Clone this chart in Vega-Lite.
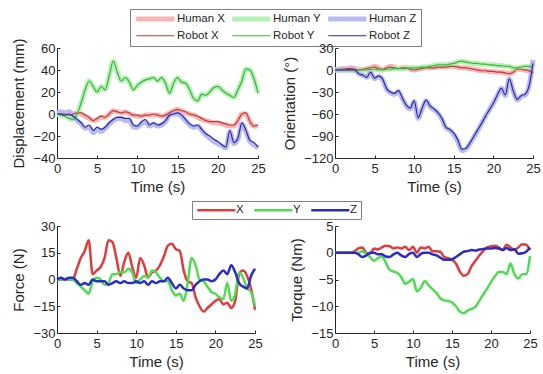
{
"$schema": "https://vega.github.io/schema/vega-lite/v6.json",
"background": "white",
"padding": {"left": 11, "top": 8, "right": 2, "bottom": 5},
"autosize": {"type": "pad"},
"config": {
  "font": "Liberation Sans",
  "view": {"stroke": null},
  "axis": {"grid": false, "domainColor": "#262626", "tickColor": "#262626", "labelColor": "#262626", "titleColor": "#262626", "labelFontSize": 13, "titleFontSize": 15, "titleFontWeight": "normal", "tickSize": -3, "labelPadding": 5, "titlePadding": 6, "labelFlush": false, "labelOverlap": false},
  "axisX": {"labelPadding": 7, "titlePadding": 4},
  "legend": {"labelFontSize": 11.5, "labelColor": "#262626", "strokeColor": "#808080", "fillColor": "white", "padding": 4, "rowPadding": 0, "columnPadding": 1, "title": null, "direction": "horizontal", "symbolSize": 49}
},
"columns": 2,
"spacing": {"row": 68, "column": 77},
"bounds": "flush",
"resolve": {"scale": {"color": "independent"}, "legend": {"color": "independent"}},
"concat": [
{
"width": 201, "height": 110,
"data": {"values": [
{"t":0,"Robot X":0,"Robot Y":0,"Robot Z":0,"Human X":0,"Human Y":0,"Human Z":1},
{"t":0.5,"Robot X":0,"Robot Y":-1,"Robot Z":0,"Human X":0,"Human Y":-1,"Human Z":2},
{"t":1,"Robot X":0,"Robot Y":-2,"Robot Z":-1,"Human X":0,"Human Y":-2,"Human Z":1},
{"t":1.5,"Robot X":-1,"Robot Y":-4,"Robot Z":0,"Human X":-1,"Human Y":-4,"Human Z":2},
{"t":2,"Robot X":0,"Robot Y":-5,"Robot Z":-2,"Human X":0,"Human Y":-5,"Human Z":-1},
{"t":2.5,"Robot X":1,"Robot Y":0,"Robot Z":-5,"Human X":1,"Human Y":0,"Human Z":-6},
{"t":3,"Robot X":1,"Robot Y":10,"Robot Z":-8,"Human X":0,"Human Y":10,"Human Z":-9},
{"t":3.5,"Robot X":-1,"Robot Y":22,"Robot Z":-12,"Human X":-2,"Human Y":22,"Human Z":-13},
{"t":4,"Robot X":-3,"Robot Y":30,"Robot Z":-10,"Human X":-4,"Human Y":30,"Human Z":-12},
{"t":4.5,"Robot X":-6,"Robot Y":25,"Robot Z":-15,"Human X":-6,"Human Y":25,"Human Z":-17},
{"t":5,"Robot X":-4,"Robot Y":20,"Robot Z":-12,"Human X":-5,"Human Y":20,"Human Z":-14},
{"t":5.5,"Robot X":-2,"Robot Y":25,"Robot Z":-14,"Human X":-3,"Human Y":25,"Human Z":-16},
{"t":6,"Robot X":-3,"Robot Y":22,"Robot Z":-12,"Human X":-3,"Human Y":22,"Human Z":-13},
{"t":6.5,"Robot X":0,"Robot Y":35,"Robot Z":-8,"Human X":0,"Human Y":35,"Human Z":-9},
{"t":7,"Robot X":3,"Robot Y":48,"Robot Z":-5,"Human X":3,"Human Y":48,"Human Z":-6},
{"t":7.5,"Robot X":2,"Robot Y":38,"Robot Z":-3,"Human X":2,"Human Y":38,"Human Z":-4},
{"t":8,"Robot X":1,"Robot Y":30,"Robot Z":-3,"Human X":1,"Human Y":30,"Human Z":-4},
{"t":8.5,"Robot X":2,"Robot Y":33,"Robot Z":-4,"Human X":2,"Human Y":33,"Human Z":-6},
{"t":9,"Robot X":1,"Robot Y":29,"Robot Z":-4,"Human X":0,"Human Y":29,"Human Z":-6},
{"t":9.5,"Robot X":-1,"Robot Y":22,"Robot Z":-10,"Human X":-1,"Human Y":22,"Human Z":-12},
{"t":10,"Robot X":-1,"Robot Y":26,"Robot Z":-11,"Human X":-2,"Human Y":26,"Human Z":-12},
{"t":10.5,"Robot X":-2,"Robot Y":29,"Robot Z":-7,"Human X":-2,"Human Y":29,"Human Z":-9},
{"t":11,"Robot X":-1,"Robot Y":31,"Robot Z":-5,"Human X":-1,"Human Y":31,"Human Z":-7},
{"t":11.5,"Robot X":-1,"Robot Y":32,"Robot Z":-10,"Human X":-1,"Human Y":32,"Human Z":-11},
{"t":12,"Robot X":0,"Robot Y":33,"Robot Z":-8,"Human X":-1,"Human Y":33,"Human Z":-9},
{"t":12.5,"Robot X":-1,"Robot Y":30,"Robot Z":-10,"Human X":-1,"Human Y":30,"Human Z":-11},
{"t":13,"Robot X":-2,"Robot Y":33,"Robot Z":-9,"Human X":-2,"Human Y":33,"Human Z":-10},
{"t":13.5,"Robot X":-1,"Robot Y":28,"Robot Z":-6,"Human X":-1,"Human Y":28,"Human Z":-7},
{"t":14,"Robot X":1,"Robot Y":19,"Robot Z":-1,"Human X":1,"Human Y":19,"Human Z":-1},
{"t":14.5,"Robot X":3,"Robot Y":28,"Robot Z":0,"Human X":3,"Human Y":28,"Human Z":0},
{"t":15,"Robot X":4,"Robot Y":33,"Robot Z":1,"Human X":4,"Human Y":33,"Human Z":0},
{"t":15.5,"Robot X":3,"Robot Y":29,"Robot Z":-1,"Human X":3,"Human Y":29,"Human Z":-2},
{"t":16,"Robot X":2,"Robot Y":28,"Robot Z":-5,"Human X":1,"Human Y":28,"Human Z":-6},
{"t":16.5,"Robot X":0,"Robot Y":22,"Robot Z":-9,"Human X":0,"Human Y":22,"Human Z":-10},
{"t":17,"Robot X":-1,"Robot Y":14,"Robot Z":-11,"Human X":-1,"Human Y":14,"Human Z":-12},
{"t":17.5,"Robot X":-2,"Robot Y":12,"Robot Z":-10,"Human X":-3,"Human Y":12,"Human Z":-11},
{"t":18,"Robot X":-4,"Robot Y":18,"Robot Z":-14,"Human X":-5,"Human Y":18,"Human Z":-15},
{"t":18.5,"Robot X":-6,"Robot Y":17,"Robot Z":-18,"Human X":-6,"Human Y":17,"Human Z":-19},
{"t":19,"Robot X":-7,"Robot Y":20,"Robot Z":-20,"Human X":-7,"Human Y":20,"Human Z":-22},
{"t":19.5,"Robot X":-7,"Robot Y":24,"Robot Z":-23,"Human X":-8,"Human Y":24,"Human Z":-25},
{"t":20,"Robot X":-7,"Robot Y":25,"Robot Z":-25,"Human X":-8,"Human Y":25,"Human Z":-27},
{"t":20.5,"Robot X":-8,"Robot Y":22,"Robot Z":-28,"Human X":-9,"Human Y":22,"Human Z":-29},
{"t":21,"Robot X":-9,"Robot Y":19,"Robot Z":-30,"Human X":-10,"Human Y":19,"Human Z":-31},
{"t":21.5,"Robot X":-10,"Robot Y":17,"Robot Z":-15,"Human X":-11,"Human Y":17,"Human Z":-16},
{"t":22,"Robot X":-10,"Robot Y":15,"Robot Z":-26,"Human X":-11,"Human Y":15,"Human Z":-27},
{"t":22.5,"Robot X":-6,"Robot Y":22,"Robot Z":-22,"Human X":-6,"Human Y":22,"Human Z":-23},
{"t":23,"Robot X":0,"Robot Y":30,"Robot Z":-8,"Human X":0,"Human Y":30,"Human Z":-9},
{"t":23.5,"Robot X":1,"Robot Y":41,"Robot Z":-15,"Human X":0,"Human Y":41,"Human Z":-16},
{"t":24,"Robot X":-7,"Robot Y":40,"Robot Z":-24,"Human X":-7,"Human Y":40,"Human Z":-25},
{"t":24.5,"Robot X":-11,"Robot Y":32,"Robot Z":-26,"Human X":-11,"Human Y":32,"Human Z":-28},
{"t":25,"Robot X":-10,"Robot Y":19,"Robot Z":-30,"Human X":-11,"Human Y":19,"Human Z":-31}
]},
"transform": [{"fold": ["Human X","Human Y","Human Z","Robot X","Robot Y","Robot Z"]}],
"encoding": {
  "x": {"field": "t", "type": "quantitative", "scale": {"domain": [0,25], "nice": false}, "axis": {"values": [0,5,10,15,20,25], "title": "Time (s)"}},
  "y": {"field": "value", "type": "quantitative", "scale": {"domain": [-40,60], "nice": false}, "axis": {"values": [-40,-20,0,20,40,60], "title": "Displacement (mm)"}},
  "color": {"field": "key", "type": "nominal", "scale": {"domain": ["Human X","Human Y","Human Z","Robot X","Robot Y","Robot Z"], "range": ["#f5b5b5","#b5f0b5","#babaf2","#c03a3a","#3cb43c","#2a2a9a"]}, "legend": {"orient": "none", "legendX": 73, "legendY": -39, "columns": 3, "columnPadding": -3, "symbolType": "M-1,0H9.9", "labelOffset": 31.5, "encode": {"symbols": {"update": {"strokeWidth": {"signal": "test(/Human/, datum.value) ? 5 : 1.2"}}}}}}
},
"layer": [
  {"transform": [{"filter": {"field": "key", "oneOf": ["Human X","Human Y","Human Z"]}}], "mark": {"type": "line", "interpolate": "monotone", "strokeWidth": 5}},
  {"transform": [{"filter": {"field": "key", "oneOf": ["Robot X","Robot Y","Robot Z"]}}], "mark": {"type": "line", "interpolate": "monotone", "strokeWidth": 1.2}}
]
},
{
"width": 198, "height": 110,
"data": {"values": [
{"t":0,"Robot X":0,"Robot Y":0,"Robot Z":0,"Human X":0,"Human Y":0,"Human Z":0},
{"t":0.5,"Robot X":1,"Robot Y":0,"Robot Z":0,"Human X":1,"Human Y":0,"Human Z":0},
{"t":1,"Robot X":1,"Robot Y":0,"Robot Z":0,"Human X":2,"Human Y":0,"Human Z":0},
{"t":1.5,"Robot X":2,"Robot Y":0,"Robot Z":0,"Human X":2,"Human Y":0,"Human Z":0},
{"t":2,"Robot X":2,"Robot Y":-1,"Robot Z":1,"Human X":3,"Human Y":-1,"Human Z":1},
{"t":2.5,"Robot X":1,"Robot Y":-1,"Robot Z":0,"Human X":2,"Human Y":-1,"Human Z":0},
{"t":3,"Robot X":0,"Robot Y":0,"Robot Z":-5,"Human X":1,"Human Y":0,"Human Z":-5},
{"t":3.5,"Robot X":1,"Robot Y":0,"Robot Z":-7,"Human X":1,"Human Y":0,"Human Z":-7},
{"t":4,"Robot X":2,"Robot Y":0,"Robot Z":-10,"Human X":2,"Human Y":0,"Human Z":-10},
{"t":4.5,"Robot X":3,"Robot Y":1,"Robot Z":-3,"Human X":3,"Human Y":1,"Human Z":-3},
{"t":5,"Robot X":4,"Robot Y":1,"Robot Z":-11,"Human X":5,"Human Y":1,"Human Z":-12},
{"t":5.5,"Robot X":2,"Robot Y":0,"Robot Z":-8,"Human X":3,"Human Y":0,"Human Z":-9},
{"t":6,"Robot X":1,"Robot Y":0,"Robot Z":-12,"Human X":1,"Human Y":0,"Human Z":-13},
{"t":6.5,"Robot X":3,"Robot Y":1,"Robot Z":-25,"Human X":3,"Human Y":1,"Human Z":-26},
{"t":7,"Robot X":4,"Robot Y":1,"Robot Z":-30,"Human X":5,"Human Y":1,"Human Z":-31},
{"t":7.5,"Robot X":3,"Robot Y":2,"Robot Z":-32,"Human X":4,"Human Y":2,"Human Z":-33},
{"t":8,"Robot X":2,"Robot Y":2,"Robot Z":-28,"Human X":2,"Human Y":2,"Human Z":-29},
{"t":8.5,"Robot X":3,"Robot Y":2,"Robot Z":-38,"Human X":3,"Human Y":2,"Human Z":-39},
{"t":9,"Robot X":3,"Robot Y":2,"Robot Z":-48,"Human X":3,"Human Y":2,"Human Z":-49},
{"t":9.5,"Robot X":1,"Robot Y":3,"Robot Z":-52,"Human X":1,"Human Y":3,"Human Z":-53},
{"t":10,"Robot X":0,"Robot Y":3,"Robot Z":-42,"Human X":0,"Human Y":3,"Human Z":-43},
{"t":10.5,"Robot X":1,"Robot Y":3,"Robot Z":-65,"Human X":1,"Human Y":3,"Human Z":-66},
{"t":11,"Robot X":2,"Robot Y":4,"Robot Z":-52,"Human X":2,"Human Y":4,"Human Z":-53},
{"t":11.5,"Robot X":3,"Robot Y":4,"Robot Z":-41,"Human X":3,"Human Y":4,"Human Z":-42},
{"t":12,"Robot X":3,"Robot Y":5,"Robot Z":-49,"Human X":3,"Human Y":5,"Human Z":-50},
{"t":12.5,"Robot X":3,"Robot Y":6,"Robot Z":-53,"Human X":3,"Human Y":6,"Human Z":-54},
{"t":13,"Robot X":4,"Robot Y":7,"Robot Z":-58,"Human X":4,"Human Y":7,"Human Z":-59},
{"t":13.5,"Robot X":4,"Robot Y":7,"Robot Z":-66,"Human X":4,"Human Y":7,"Human Z":-67},
{"t":14,"Robot X":4,"Robot Y":7,"Robot Z":-78,"Human X":4,"Human Y":7,"Human Z":-79},
{"t":14.5,"Robot X":5,"Robot Y":8,"Robot Z":-81,"Human X":5,"Human Y":8,"Human Z":-82},
{"t":15,"Robot X":5,"Robot Y":9,"Robot Z":-86,"Human X":5,"Human Y":9,"Human Z":-88},
{"t":15.5,"Robot X":4,"Robot Y":11,"Robot Z":-95,"Human X":4,"Human Y":11,"Human Z":-97},
{"t":16,"Robot X":3,"Robot Y":12,"Robot Z":-108,"Human X":3,"Human Y":12,"Human Z":-110},
{"t":16.5,"Robot X":3,"Robot Y":11,"Robot Z":-107,"Human X":3,"Human Y":11,"Human Z":-108},
{"t":17,"Robot X":2,"Robot Y":10,"Robot Z":-100,"Human X":2,"Human Y":10,"Human Z":-101},
{"t":17.5,"Robot X":1,"Robot Y":9,"Robot Z":-91,"Human X":1,"Human Y":9,"Human Z":-92},
{"t":18,"Robot X":0,"Robot Y":9,"Robot Z":-82,"Human X":0,"Human Y":9,"Human Z":-83},
{"t":18.5,"Robot X":-1,"Robot Y":8,"Robot Z":-73,"Human X":-1,"Human Y":8,"Human Z":-73},
{"t":19,"Robot X":-1,"Robot Y":8,"Robot Z":-63,"Human X":-1,"Human Y":8,"Human Z":-63},
{"t":19.5,"Robot X":-2,"Robot Y":7,"Robot Z":-54,"Human X":-2,"Human Y":7,"Human Z":-54},
{"t":20,"Robot X":-2,"Robot Y":7,"Robot Z":-45,"Human X":-2,"Human Y":7,"Human Z":-45},
{"t":20.5,"Robot X":-3,"Robot Y":6,"Robot Z":-34,"Human X":-3,"Human Y":6,"Human Z":-35},
{"t":21,"Robot X":-3,"Robot Y":6,"Robot Z":-25,"Human X":-3,"Human Y":6,"Human Z":-25},
{"t":21.5,"Robot X":-4,"Robot Y":5,"Robot Z":-34,"Human X":-4,"Human Y":5,"Human Z":-35},
{"t":22,"Robot X":-5,"Robot Y":5,"Robot Z":-12,"Human X":-5,"Human Y":5,"Human Z":-12},
{"t":22.5,"Robot X":-3,"Robot Y":3,"Robot Z":-28,"Human X":-3,"Human Y":3,"Human Z":-29},
{"t":23,"Robot X":1,"Robot Y":3,"Robot Z":-40,"Human X":1,"Human Y":3,"Human Z":-41},
{"t":23.5,"Robot X":1,"Robot Y":4,"Robot Z":-35,"Human X":1,"Human Y":4,"Human Z":-36},
{"t":24,"Robot X":0,"Robot Y":5,"Robot Z":-33,"Human X":0,"Human Y":5,"Human Z":-34},
{"t":24.5,"Robot X":-1,"Robot Y":5,"Robot Z":-22,"Human X":-1,"Human Y":5,"Human Z":-22},
{"t":25,"Robot X":-4,"Robot Y":4,"Robot Z":9,"Human X":-5,"Human Y":4,"Human Z":14}
]},
"transform": [{"fold": ["Human X","Human Y","Human Z","Robot X","Robot Y","Robot Z"]}],
"encoding": {
  "x": {"field": "t", "type": "quantitative", "scale": {"domain": [0,25], "nice": false}, "axis": {"values": [0,5,10,15,20,25], "title": "Time (s)"}},
  "y": {"field": "value", "type": "quantitative", "scale": {"domain": [-120,30], "nice": false}, "axis": {"values": [-120,-90,-60,-30,0,30], "title": "Orientation (°)"}},
  "color": {"field": "key", "type": "nominal", "scale": {"domain": ["Human X","Human Y","Human Z","Robot X","Robot Y","Robot Z"], "range": ["#f5b5b5","#b5f0b5","#babaf2","#c03a3a","#3cb43c","#2a2a9a"]}, "legend": null}
},
"layer": [
  {"transform": [{"filter": {"field": "key", "oneOf": ["Human X","Human Y","Human Z"]}}], "mark": {"type": "line", "interpolate": "monotone", "strokeWidth": 5}},
  {"transform": [{"filter": {"field": "key", "oneOf": ["Robot X","Robot Y","Robot Z"]}}], "mark": {"type": "line", "interpolate": "monotone", "strokeWidth": 1.2}}
]
},
{
"width": 198, "height": 107,
"data": {"values": [
{"t":0,"X":0,"Y":0,"Z":0},
{"t":0.5,"X":0,"Y":0,"Z":1},
{"t":1,"X":0,"Y":0,"Z":0},
{"t":1.5,"X":0,"Y":0,"Z":1},
{"t":2,"X":0,"Y":0,"Z":1},
{"t":2.5,"X":6,"Y":-2,"Z":-1},
{"t":3,"X":12,"Y":-4,"Z":-3},
{"t":3.5,"X":16,"Y":-6,"Z":-2},
{"t":4,"X":22,"Y":-8,"Z":-3},
{"t":4.5,"X":3,"Y":-1,"Z":0},
{"t":5,"X":5,"Y":1,"Z":-1},
{"t":5.5,"X":7,"Y":0,"Z":-1},
{"t":6,"X":12,"Y":-3,"Z":-1},
{"t":6.5,"X":22,"Y":-2,"Z":-3},
{"t":7,"X":21,"Y":3,"Z":-2},
{"t":7.5,"X":12,"Y":3,"Z":-1},
{"t":8,"X":2,"Y":4,"Z":-2},
{"t":8.5,"X":10,"Y":4,"Z":-1},
{"t":9,"X":15,"Y":6,"Z":-2},
{"t":9.5,"X":7,"Y":4,"Z":-2},
{"t":10,"X":1,"Y":-2,"Z":-1},
{"t":10.5,"X":12,"Y":0,"Z":-2},
{"t":11,"X":8,"Y":2,"Z":-1},
{"t":11.5,"X":1,"Y":1,"Z":-3},
{"t":12,"X":4,"Y":5,"Z":-1},
{"t":12.5,"X":5,"Y":4,"Z":-2},
{"t":13,"X":8,"Y":1,"Z":-1},
{"t":13.5,"X":13,"Y":-1,"Z":-1},
{"t":14,"X":19,"Y":-1,"Z":1},
{"t":14.5,"X":20,"Y":-6,"Z":-2},
{"t":15,"X":17,"Y":-9,"Z":-5},
{"t":15.5,"X":16,"Y":-8,"Z":-3},
{"t":16,"X":5,"Y":-12,"Z":-5},
{"t":16.5,"X":-1,"Y":-2,"Z":-6},
{"t":17,"X":-2,"Y":12,"Z":-6},
{"t":17.5,"X":-10,"Y":8,"Z":-3},
{"t":18,"X":-15,"Y":0,"Z":-1},
{"t":18.5,"X":-18,"Y":-1,"Z":0},
{"t":19,"X":-16,"Y":-4,"Z":0},
{"t":19.5,"X":-14,"Y":-7,"Z":-1},
{"t":20,"X":-12,"Y":-8,"Z":0},
{"t":20.5,"X":-11,"Y":-10,"Z":3},
{"t":21,"X":-14,"Y":-11,"Z":5},
{"t":21.5,"X":-13,"Y":-2,"Z":3},
{"t":22,"X":-16,"Y":-12,"Z":8},
{"t":22.5,"X":-12,"Y":-8,"Z":4},
{"t":23,"X":3,"Y":4,"Z":-2},
{"t":23.5,"X":5,"Y":1,"Z":-4},
{"t":24,"X":2,"Y":-5,"Z":-5},
{"t":24.5,"X":-5,"Y":-7,"Z":2},
{"t":25,"X":-17,"Y":-15,"Z":6}
]},
"transform": [{"fold": ["X","Y","Z"]}],
"mark": {"type": "line", "interpolate": "monotone", "strokeWidth": 2.5},
"encoding": {
  "x": {"field": "t", "type": "quantitative", "scale": {"domain": [0,25], "nice": false}, "axis": {"values": [0,5,10,15,20,25], "title": "Time (s)"}},
  "y": {"field": "value", "type": "quantitative", "scale": {"domain": [-30,30], "nice": false}, "axis": {"values": [-30,-15,0,15,30], "title": "Force (N)"}},
  "color": {"field": "key", "type": "nominal", "scale": {"domain": ["X","Y","Z"], "range": ["#e03c3c","#50dc50","#2b2bc8"]}, "legend": {"orient": "none", "legendX": 135, "legendY": -25, "columns": 3, "symbolType": "M-1,0H9.9", "labelOffset": 29.5, "symbolStrokeWidth": 2.5, "columnPadding": 5, "padding": 3}}
}
},
{
"width": 195, "height": 107,
"data": {"values": [
{"t":0,"X":0,"Y":0,"Z":0},
{"t":0.5,"X":0,"Y":0,"Z":0},
{"t":1,"X":0,"Y":0,"Z":0},
{"t":1.5,"X":0,"Y":0,"Z":0},
{"t":2,"X":0,"Y":0,"Z":0},
{"t":2.5,"X":0.3,"Y":0,"Z":0},
{"t":3,"X":0.8,"Y":0,"Z":-0.3},
{"t":3.5,"X":1,"Y":0.3,"Z":-0.8},
{"t":4,"X":0,"Y":-0.2,"Z":-0.5},
{"t":4.5,"X":-0.2,"Y":-0.8,"Z":0},
{"t":5,"X":0.8,"Y":-1.5,"Z":0},
{"t":5.5,"X":0.6,"Y":-1,"Z":-0.3},
{"t":6,"X":1,"Y":-0.7,"Z":-0.3},
{"t":6.5,"X":1.3,"Y":-1.8,"Z":-0.7},
{"t":7,"X":1.2,"Y":-3.2,"Z":-0.8},
{"t":7.5,"X":0.8,"Y":-3.5,"Z":-0.3},
{"t":8,"X":1,"Y":-3.8,"Z":0},
{"t":8.5,"X":0.8,"Y":-4.6,"Z":-0.5},
{"t":9,"X":1.1,"Y":-5.8,"Z":-0.8},
{"t":9.5,"X":0.5,"Y":-5.4,"Z":-0.2},
{"t":10,"X":1.1,"Y":-4.9,"Z":0},
{"t":10.5,"X":0,"Y":-7.2,"Z":-0.8},
{"t":11,"X":1,"Y":-6.6,"Z":-0.2},
{"t":11.5,"X":0.8,"Y":-5.3,"Z":0},
{"t":12,"X":1.1,"Y":-6.1,"Z":0},
{"t":12.5,"X":0.3,"Y":-6.8,"Z":-0.3},
{"t":13,"X":0.3,"Y":-7.5,"Z":-0.5},
{"t":13.5,"X":0.2,"Y":-8.5,"Z":-0.9},
{"t":14,"X":-0.8,"Y":-8.9,"Z":-1.3},
{"t":14.5,"X":-1,"Y":-9,"Z":-1.3},
{"t":15,"X":-1.3,"Y":-9.3,"Z":-1.2},
{"t":15.5,"X":-2,"Y":-10,"Z":-0.8},
{"t":16,"X":-3.5,"Y":-11,"Z":-0.3},
{"t":16.5,"X":-4.3,"Y":-11.3,"Z":0.2},
{"t":17,"X":-4,"Y":-10.8,"Z":0.3},
{"t":17.5,"X":-2.5,"Y":-10.5,"Z":0.5},
{"t":18,"X":-1.5,"Y":-10.1,"Z":0.4},
{"t":18.5,"X":-0.5,"Y":-9,"Z":0.6},
{"t":19,"X":0.3,"Y":-7.8,"Z":0.7},
{"t":19.5,"X":1,"Y":-6.7,"Z":0.8},
{"t":20,"X":1.2,"Y":-5.5,"Z":0.8},
{"t":20.5,"X":1.3,"Y":-4.4,"Z":0.9},
{"t":21,"X":1,"Y":-3.6,"Z":0.8},
{"t":21.5,"X":0.5,"Y":-3.6,"Z":0.5},
{"t":22,"X":1.5,"Y":-4,"Z":0.9},
{"t":22.5,"X":1,"Y":-2,"Z":0.5},
{"t":23,"X":0.5,"Y":-4,"Z":0.7},
{"t":23.5,"X":1,"Y":-4.8,"Z":-0.2},
{"t":24,"X":1.6,"Y":-4,"Z":-0.1},
{"t":24.5,"X":1.5,"Y":-4,"Z":0.2},
{"t":25,"X":0.5,"Y":-0.6,"Z":1}
]},
"transform": [{"fold": ["X","Y","Z"]}],
"mark": {"type": "line", "interpolate": "monotone", "strokeWidth": 2.5},
"encoding": {
  "x": {"field": "t", "type": "quantitative", "scale": {"domain": [0,25], "nice": false}, "axis": {"values": [0,5,10,15,20,25], "title": "Time (s)"}},
  "y": {"field": "value", "type": "quantitative", "scale": {"domain": [-15,5], "nice": false}, "axis": {"values": [-15,-10,-5,0,5], "title": "Torque (Nm)"}},
  "color": {"field": "key", "type": "nominal", "scale": {"domain": ["X","Y","Z"], "range": ["#e03c3c","#50dc50","#2b2bc8"]}, "legend": null}
}
}
]
}
